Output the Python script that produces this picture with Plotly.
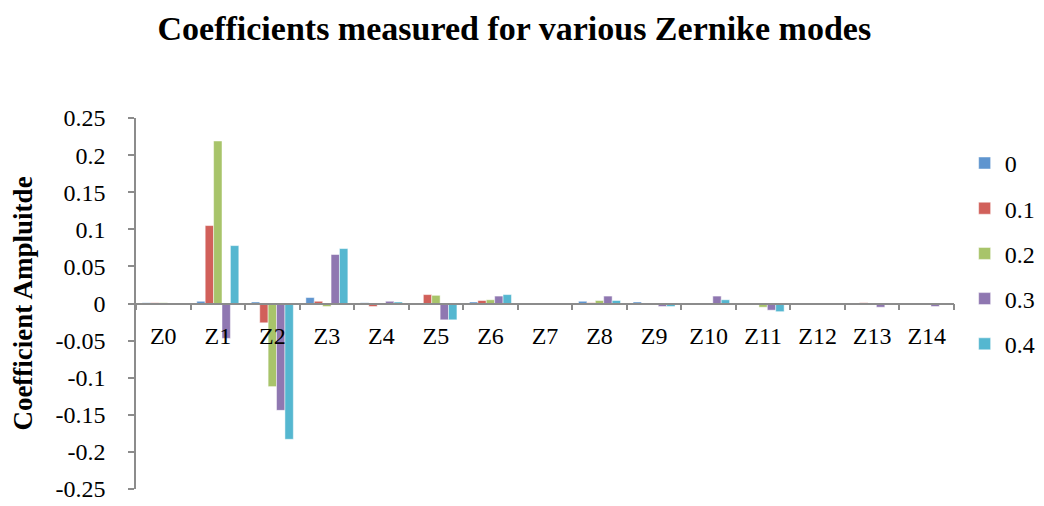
import plotly.graph_objects as go

categories = ["Z0", "Z1", "Z2", "Z3", "Z4", "Z5", "Z6", "Z7", "Z8", "Z9", "Z10", "Z11", "Z12", "Z13", "Z14"]
series_names = ["0", "0.1", "0.2", "0.3", "0.4"]
s0 = [0.001, 0.003, 0.002, 0.008, 0.001, -0.001, 0.002, -0.002, 0.003, 0.002, 0.0, 0.0, 0.0, 0.0, 0.0]
s01 = [0.001, 0.105, -0.026, 0.003, -0.004, 0.012, 0.004, 0.0, 0.001, 0.0, 0.0, 0.0, 0.0, 0.001, 0.0]
s02 = [0.001, 0.219, -0.112, -0.004, -0.002, 0.011, 0.005, 0.0, 0.004, -0.001, 0.0, -0.005, 0.0, -0.001, 0.0]
s03 = [-0.002, -0.047, -0.144, 0.066, 0.003, -0.022, 0.010, 0.0, 0.010, -0.004, 0.010, -0.009, 0.0, -0.005, -0.004]
s04 = [0.0, 0.078, -0.183, 0.074, 0.002, -0.022, 0.012, -0.002, 0.004, -0.004, 0.005, -0.011, 0.0, 0.0, -0.002]
series_values = [s0, s01, s02, s03, s04]
colors = ["#5F95CF", "#D1605A", "#A8C46A", "#8F77B1", "#55B7D0"]
ytick_vals = [0.25, 0.2, 0.15, 0.1, 0.05, 0, -0.05, -0.1, -0.15, -0.2, -0.25]
ytick_text = ["0.25", "0.2", "0.15", "0.1", "0.05", "0", "-0.05", "-0.1", "-0.15", "-0.2", "-0.25"]

FONT = "Liberation Serif"

fig = go.Figure()
for name, vals, col in zip(series_names, series_values, colors):
    fig.add_trace(go.Bar(
        x=categories, y=vals, name=name, legendgroup=name,
        marker=dict(color=col, line=dict(color="rgba(255,255,255,0.6)", width=0.8)),
    ))

axis_grey = "#8C8C8C"
fig.update_layout(
    width=1044, height=506,
    paper_bgcolor="white", plot_bgcolor="white",
    margin=dict(l=128, r=80, t=110, b=15),
    barmode="group", bargap=0.23, bargroupgap=0,
    font=dict(family=FONT, size=24, color="black"),
    title=dict(text="<b>Coefficients measured for various Zernike modes</b>",
               x=0.485, xanchor="center", y=0.96, yanchor="middle",
               font=dict(family=FONT, size=34, color="black")),
    legend=dict(x=1.013, xanchor="left", y=0.635, yanchor="middle",
                font=dict(family=FONT, size=24), tracegroupgap=11,
                itemwidth=30, bgcolor="rgba(0,0,0,0)"),
    xaxis=dict(type="category", anchor="free", position=0.5,
               showline=True, linecolor=axis_grey, linewidth=1.5,
               ticks="outside", ticklen=6, tickcolor=axis_grey, tickwidth=1.5,
               tickson="boundaries", showgrid=False, zeroline=False,
               ticklabelstandoff=11,
               tickfont=dict(family=FONT, size=24)),
    yaxis=dict(range=[-0.25, 0.25], domain=[0, 1],
               tickvals=ytick_vals, ticktext=ytick_text,
               showline=True, linecolor=axis_grey, linewidth=1.5,
               ticks="outside", ticklen=6, tickcolor=axis_grey, tickwidth=1.5,
               showgrid=False, zeroline=False, ticklabelstandoff=18,
               tickfont=dict(family=FONT, size=24),
               title=dict(text="<b>Coefficient Ampluitde</b>", standoff=17,
                          font=dict(family=FONT, size=27))),
)

fig.write_html("out.html")
